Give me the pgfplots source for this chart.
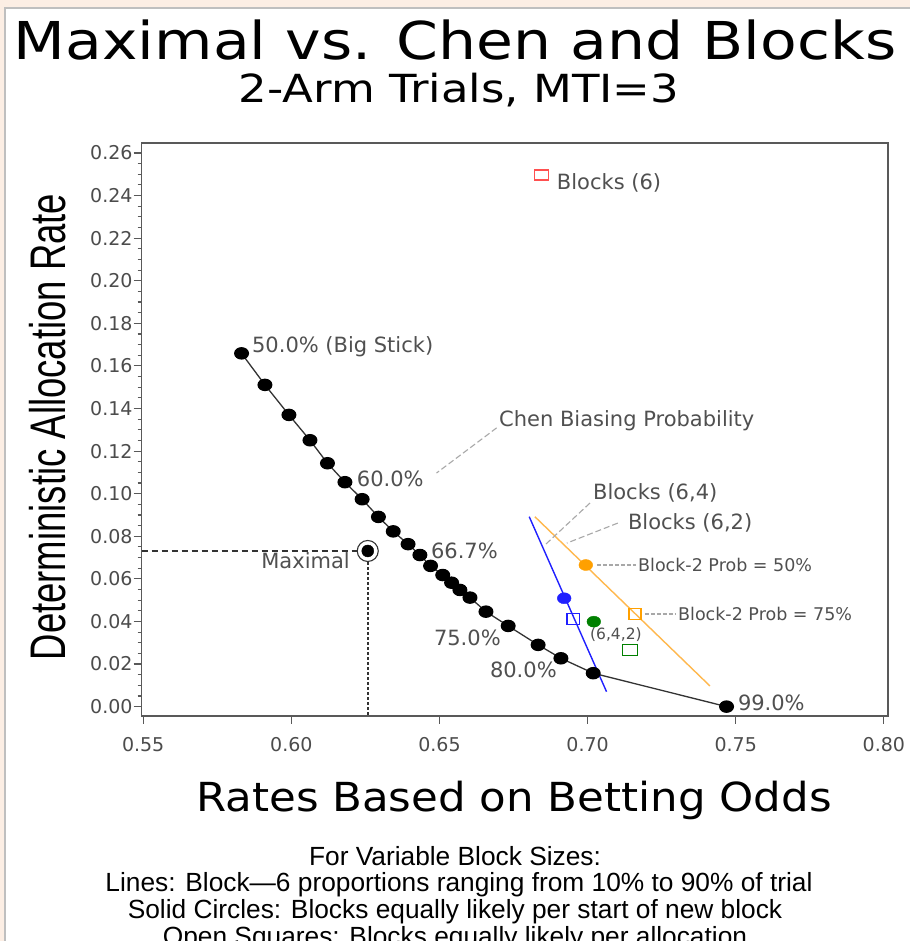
\documentclass[border=0pt]{standalone}
\usepackage{pgfplots}
\pgfplotsset{compat=1.18}
\usepackage{fontspec}
\usepackage{graphicx}
\setmainfont{DejaVu Sans}
\newfontfamily\lib{Liberation Sans}
\definecolor{peach}{HTML}{FCEEE4}
\definecolor{labgray}{HTML}{505050}
\definecolor{leadgray}{HTML}{A8A8A8}
\definecolor{myorange}{HTML}{FFB84D}
\definecolor{myorangedot}{HTML}{FFA000}
\definecolor{mygreen}{HTML}{008000}
\definecolor{myred}{HTML}{FF5050}
\definecolor{myblue}{HTML}{2020FF}

\pgfplotstableread{
x y
0.5832 0.1659
0.5911 0.1511
0.5992 0.1370
0.6063 0.1251
0.6122 0.1143
0.6181 0.1054
0.6239 0.0974
0.6294 0.0891
0.6344 0.0823
0.6394 0.0763
0.6434 0.0712
0.6470 0.0661
0.6511 0.0618
0.6541 0.0582
0.6569 0.0548
0.6603 0.0512
0.6657 0.0446
0.6732 0.0379
0.6833 0.0290
0.6910 0.0227
0.7019 0.0157
0.7469 0.0000
}\chen

\begin{document}
\begin{tikzpicture}
\path[use as bounding box] (0pt,0pt) rectangle (910pt,941pt);
\clip (0pt,0pt) rectangle (910pt,941pt);
\fill[peach] (0pt,0pt) rectangle (910pt,941pt);
\fill[white] (5pt,0pt) rectangle (910pt,933pt);
\draw[black!25, line width=1.2pt] (5pt,0pt) -- (5pt,933pt) -- (910pt,933pt);

\node[anchor=base, inner sep=0, font=\fontsize{60}{60}\selectfont] at (455pt,881pt) {\scalebox{1}[0.87]{Maximal vs. Chen and Blocks}};
\node[anchor=base, inner sep=0, font=\fontsize{45}{45}\selectfont] at (459pt,838pt) {\scalebox{1}[0.86]{2-Arm Trials, MTI=3}};
\node[anchor=base, inner sep=0, font=\fontsize{43.5}{43.5}\selectfont] at (514pt,129pt) {\scalebox{1}[0.92]{Rates Based on Betting Odds}};
\node[rotate=90, inner sep=0, font=\lib\fontsize{50}{50}\selectfont] at (48pt,514pt) {\scalebox{0.73}[1]{Deterministic Allocation Rate}};

\node[anchor=base, inner sep=0, font=\lib\fontsize{26.3}{26.3}\selectfont] at (455pt,75pt) {For Variable Block Sizes:};
\node[anchor=base, inner sep=0, font=\lib\fontsize{26.3}{26.3}\selectfont] at (459pt,49pt) {Lines: Block—6 proportions ranging from 10\% to 90\% of trial};
\node[anchor=base, inner sep=0, font=\lib\fontsize{26.3}{26.3}\selectfont] at (455pt,22pt) {Solid Circles: Blocks equally likely per start of new block};
\node[anchor=base, inner sep=0, font=\lib\fontsize{26.3}{26.3}\selectfont] at (455pt,-5pt) {Open Squares: Blocks equally likely per allocation};

\begin{axis}[
  at={(141.7pt,225pt)}, anchor=south west,
  scale only axis, width=746.3pt, height=573pt,
  xmin=0.5495, xmax=0.8014, ymin=-0.0044, ymax=0.2647,
  clip=false,
  axis line style={black!65, line width=1.2pt},
  xtick={0.55,0.60,0.65,0.70,0.75,0.80},
  ytick={0,0.02,0.04,0.06,0.08,0.10,0.12,0.14,0.16,0.18,0.20,0.22,0.24,0.26},
  minor y tick num=3,
  tick align=outside,
  xtick pos=bottom, ytick pos=left,
  major tick length=8pt, minor tick length=4pt,
  tick style={black!65, line width=1.1pt},
  /pgf/number format/assume math mode=true,
  /pgf/number format/fixed, /pgf/number format/fixed zerofill, /pgf/number format/precision=2,
  ticklabel style={font=\fontsize{19}{19}\selectfont, text=black!70},
  yticklabel style={inner sep=1pt},
  xticklabel style={yshift=-10pt},
]
% Maximal guide lines
\addplot[black!80, line width=1.2pt, dash pattern=on 6pt off 4pt] coordinates {(0.5495,0.0731) (0.6221,0.0731)};
\addplot[black!80, line width=1.6pt, dash pattern=on 2.5pt off 2.5pt] coordinates {(0.6258,0.0679) (0.6258,-0.0044)};

% Blocks lines
\addplot[myblue, line width=1.4pt] coordinates {(0.6803,0.0892) (0.7064,0.0070)};
\addplot[myorange, line width=1.4pt] coordinates {(0.6822,0.0892) (0.7413,0.0097)};

% Chen curve
\addplot[black!80, line width=1.3pt, mark=*, mark size=5.6pt, mark options={xscale=1.22, fill=black, draw=black}] table[x=x,y=y] {\chen};

% Maximal
\addplot[only marks, mark=*, mark size=6pt, mark options={fill=black, draw=black}] coordinates {(0.6258,0.0731)};
\addplot[only marks, mark=o, mark size=10.5pt, mark options={draw=black!80, line width=1.1pt}] coordinates {(0.6258,0.0731)};

% points
\addplot[only marks, mark=*, mark size=5.5pt, mark options={xscale=1.25, fill=myblue, draw=myblue}] coordinates {(0.6921,0.0509)};
\addplot[only marks, mark=square, mark size=5.5pt, mark options={xscale=1.1, draw=myblue, line width=1.2pt}] coordinates {(0.6951,0.0412)};
\addplot[only marks, mark=*, mark size=5.5pt, mark options={xscale=1.25, fill=mygreen, draw=mygreen}] coordinates {(0.7021,0.0399)};
\addplot[only marks, mark=square, mark size=5.5pt, mark options={xscale=1.3, draw=mygreen, line width=1.2pt}] coordinates {(0.7143,0.0266)};
\addplot[only marks, mark=*, mark size=5.5pt, mark options={xscale=1.25, fill=myorangedot, draw=myorangedot}] coordinates {(0.6994,0.0665)};
\addplot[only marks, mark=square, mark size=5.5pt, mark options={xscale=1.1, draw=myorangedot, line width=1.2pt}] coordinates {(0.7160,0.0434)};
\addplot[only marks, mark=square, mark size=5pt, mark options={xscale=1.4, draw=myred, line width=1.2pt}] coordinates {(0.6845,0.2497)};

% leader lines
\draw[leadgray, line width=1.1pt, dash pattern=on 6pt off 3pt] (axis cs:0.6693,0.1309) -- (axis cs:0.6490,0.1097);
\draw[leadgray, line width=1.1pt, dash pattern=on 6pt off 3pt] (axis cs:0.7008,0.0956) -- (axis cs:0.6856,0.0759);
\draw[leadgray, line width=1.1pt, dash pattern=on 6pt off 3pt] (axis cs:0.7102,0.0862) -- (axis cs:0.6930,0.0768);
\draw[leadgray, line width=1.1pt, dash pattern=on 4pt off 2pt] (axis cs:0.7031,0.0665) -- (axis cs:0.7163,0.0665);
\draw[leadgray, line width=1.1pt, dash pattern=on 4pt off 2pt] (axis cs:0.7193,0.0435) -- (axis cs:0.7298,0.0435);

% labels
\tikzset{lab/.style={anchor=west, inner sep=0, text=labgray, font=\fontsize{21}{21}\selectfont}}
\node[lab] at (axis cs:0.6896,0.2459) {Blocks (6)};
\node[lab] at (axis cs:0.5867,0.1689) {50.0\% (Big Stick)};
\node[lab] at (axis cs:0.6701,0.1342) {Chen Biasing Probability};
\node[lab] at (axis cs:0.6221,0.1069) {60.0\%};
\node[lab] at (axis cs:0.6471,0.0731) {66.7\%};
\node[lab, anchor=east] at (axis cs:0.6198,0.0684) {Maximal};
\node[lab] at (axis cs:0.6481,0.0323) {75.0\%};
\node[lab] at (axis cs:0.6670,0.0172) {80.0\%};
\node[lab] at (axis cs:0.7507,0.0017) {99.0\%};
\node[lab] at (axis cs:0.7018,0.1003) {Blocks (6,4)};
\node[lab] at (axis cs:0.7136,0.0863) {Blocks (6,2)};
\node[lab, font=\fontsize{17.5}{17.5}\selectfont] at (axis cs:0.7170,0.0665) {Block-2 Prob = 50\%};
\node[lab, font=\fontsize{17.5}{17.5}\selectfont] at (axis cs:0.7305,0.0435) {Block-2 Prob = 75\%};
\node[lab, font=\fontsize{15.5}{15.5}\selectfont] at (axis cs:0.7008,0.0337) {(6,4,2)};
\end{axis}
\end{tikzpicture}
\end{document}
